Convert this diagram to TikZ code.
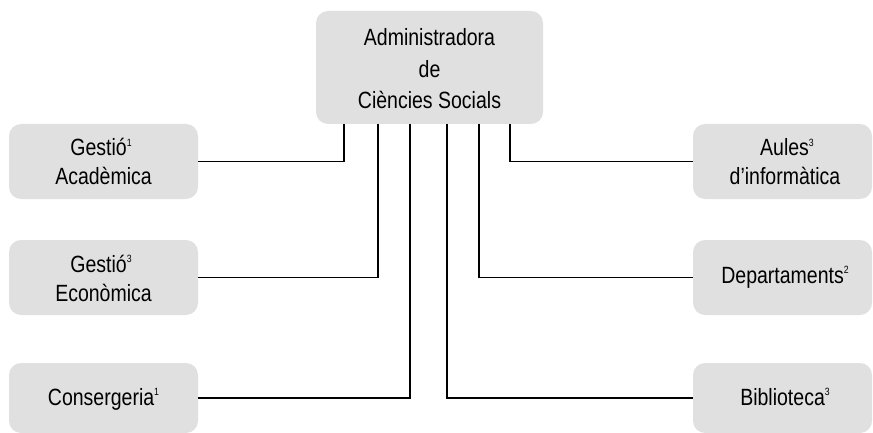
\documentclass[tikz,border=0pt]{standalone}
\usepackage{fontspec}
\setmainfont[FakeStretch=0.83]{Liberation Sans}
\definecolor{boxgray}{RGB}{224,224,224}
\newcommand{\supr}[1]{\raisebox{9.5pt}{\fontsize{10.5}{10.5}\selectfont #1}}
\begin{document}
\begin{tikzpicture}[x=1pt,y=-1pt,
  box/.style={fill=boxgray, draw=none, rounded corners=12pt, inner sep=0pt},
  lbox/.style={box, minimum width=189pt, minimum height=75pt},
  rbox/.style={box, minimum width=179pt, minimum height=75pt},
  txt/.style={anchor=base, inner sep=0pt, align=center, font=\fontsize{23.5}{29}\selectfont},
  conn/.style={draw=black, line width=1.2pt}]
\useasboundingbox (0,0) rectangle (873,433);
% boxes
\node[box, minimum width=227pt, minimum height=113pt] (adm) at (429.5,67.5) {};
\node[lbox] (ga) at (103.5,161.5) {};
\node[lbox] (ge) at (103.5,277.5) {};
\node[lbox, minimum height=70pt] (cons) at (103.5,398) {};
\node[rbox] (aul) at (782.5,161.5) {};
\node[rbox] (dep) at (782.5,277.5) {};
\node[rbox, minimum height=70pt] (bib) at (782.5,398) {};
% texts
\node[txt, font=\fontsize{23.5}{31.25}\selectfont] (admt) at (429.5,108.5) {Administradora\\de\\Ciències Socials};
\node[txt] (gat) at (103.5,185) {\hspace*{-5pt}Gestió\supr{1}\\Acadèmica};
\node[txt] (get) at (103.5,301) {\hspace*{-5pt}Gestió\supr{3}\\Econòmica};
\node[txt] (const) at (103.5,405) {Consergeria\supr{1}};
\node[txt] (ault) at (785,185) {\hspace*{4pt}Aules\supr{3}\\d’informàtica};
\node[txt] (dept) at (785,283) {Departaments\supr{2}};
\node[txt] (bibt) at (785,405) {Biblioteca\supr{3}};
% connector start points on the bottom of the top box
\coordinate (p1) at (344,124);
\coordinate (p2) at (378,124);
\coordinate (p3) at (410,124);
\coordinate (p4) at (447,124);
\coordinate (p5) at (479,124);
\coordinate (p6) at (510,124);
% connectors
\draw[conn] (ga.east) -| (p1);
\draw[conn] (ge.east) -| (p2);
\draw[conn] (cons.east) -| (p3);
\draw[conn] (bib.west) -| (p4);
\draw[conn] (dep.west) -| (p5);
\draw[conn] (aul.west) -| (p6);
\end{tikzpicture}
\end{document}
